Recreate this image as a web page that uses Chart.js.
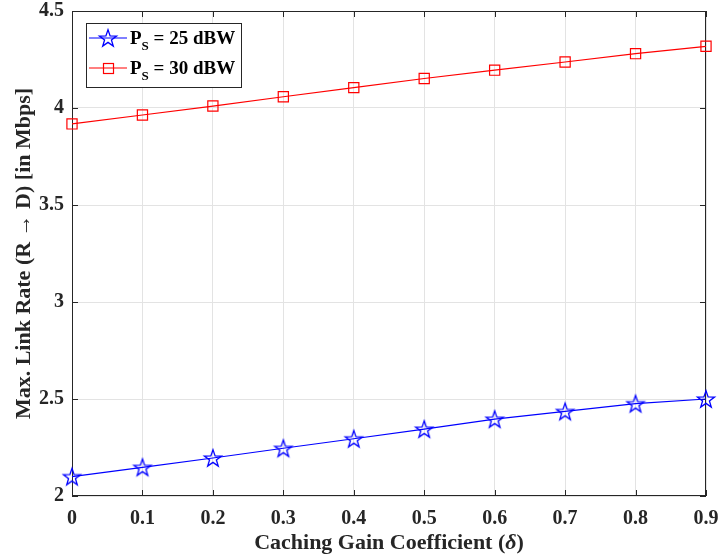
<!DOCTYPE html>
<html>
<head>
<meta charset="utf-8">
<script src="https://cdn.jsdelivr.net/npm/chart.js@4/dist/chart.umd.min.js"></script>
<style>
  html, body { margin: 0; padding: 0; background: #fff; }
</style>
</head>
<body>
<canvas id="chart" width="723" height="560"></canvas>
<script>
// caching gain coefficient (x) and link rates
const delta = [0, 0.1, 0.2, 0.3, 0.4, 0.5, 0.6, 0.7, 0.8, 0.9];
const rate25 = [2.10, 2.148, 2.196, 2.246, 2.295, 2.345, 2.396, 2.436, 2.476, 2.50];
const rate30 = [3.918, 3.964, 4.01, 4.058, 4.105, 4.152, 4.195, 4.237, 4.28, 4.318];
const seriesNames = ['25 dBW', '30 dBW'];
const xTicks = [0, 0.1, 0.2, 0.3, 0.4, 0.5, 0.6, 0.7, 0.8, 0.9];
const yTicks = [2, 2.5, 3, 3.5, 4, 4.5];

const serif = '"Liberation Serif", "Times New Roman", serif';
const axisColor = '#262626';

// pentagram marker (MATLAB 'p')
function makeStar(color) {
    const c = document.createElement('canvas');
    c.width = 22; c.height = 22;
    const g = c.getContext('2d');
    g.strokeStyle = color;
    g.lineWidth = 1.3;
    g.beginPath();
    for (let i = 0; i < 10; i++) {
        const r = i % 2 === 0 ? 9 : 3.6;
        const a = -Math.PI / 2 + i * Math.PI / 5;
        const px = 11 + r * Math.cos(a), py = 11.8 + r * Math.sin(a);
        if (i === 0) g.moveTo(px, py); else g.lineTo(px, py);
    }
    g.closePath();
    g.stroke();
    return c;
}
const starImg = makeStar('#0000ff');

const frame = {
    id: 'frame',
    beforeDatasetsDraw(chart) {
        const {ctx, chartArea: a, scales} = chart;
        ctx.save();
        ctx.strokeStyle = axisColor;
        ctx.lineWidth = 1;
        ctx.strokeRect(a.left + 0.5, a.top + 0.5, a.right - a.left - 1, a.bottom - a.top - 1);
        const tl = 6;
        ctx.beginPath();
        xTicks.forEach(v => {
            const x = Math.round(scales.x.getPixelForValue(v)) + 0.5;
            ctx.moveTo(x, a.bottom); ctx.lineTo(x, a.bottom - tl);
            ctx.moveTo(x, a.top); ctx.lineTo(x, a.top + tl);
        });
        yTicks.forEach(v => {
            const y = Math.round(scales.y.getPixelForValue(v)) + 0.5;
            ctx.moveTo(a.left, y); ctx.lineTo(a.left + tl, y);
            ctx.moveTo(a.right, y); ctx.lineTo(a.right - tl, y);
        });
        ctx.stroke();
        ctx.restore();
    },
    afterDraw(chart) {
        const {ctx, chartArea: a} = chart;
        ctx.save();
        ctx.fillStyle = axisColor;
        ctx.textBaseline = 'middle';

        // x title with italic delta
        const f1 = 'bold 22px ' + serif, f2 = 'bold italic 22px ' + serif;
        const p1 = 'Caching Gain Coefficient (', p2 = 'δ', p3 = ')';
        ctx.font = f1; const w1 = ctx.measureText(p1).width, w3 = ctx.measureText(p3).width;
        ctx.font = f2; const w2 = ctx.measureText(p2).width;
        let x = (a.left + a.right) / 2 - (w1 + w2 + w3) / 2;
        ctx.textAlign = 'left';
        ctx.font = f1; ctx.fillText(p1, x, 543); x += w1;
        ctx.font = f2; ctx.fillText(p2, x, 543); x += w2;
        ctx.font = f1; ctx.fillText(p3, x, 543);

        // y title
        ctx.translate(24, (a.top + a.bottom) / 2);
        ctx.rotate(-Math.PI / 2);
        ctx.textAlign = 'center';
        ctx.font = f1;
        ctx.fillText('Max. Link Rate (R \u2192 D) [in Mbps]', 0, 0);
        ctx.restore();

        // legend box
        ctx.save();
        ctx.fillStyle = '#fff';
        ctx.fillRect(86, 23, 155, 64);
        ctx.strokeStyle = axisColor;
        ctx.lineWidth = 1;
        ctx.strokeRect(86.5, 23.5, 155, 64);
        chart.data.datasets.forEach((ds, i) => {
            const cy = 38 + 30 * i;
            ctx.strokeStyle = ds.borderColor;
            ctx.lineWidth = 1.2;
            ctx.beginPath(); ctx.moveTo(89, cy); ctx.lineTo(127, cy); ctx.stroke();
            if (i === 0) {
                ctx.drawImage(starImg, 97, cy - 11);
            } else {
                ctx.strokeRect(103.5, cy - 4.5, 10, 10);
            }
            ctx.fillStyle = '#000';
            ctx.textAlign = 'left';
            ctx.textBaseline = 'alphabetic';
            let tx = 130;
            ctx.font = 'bold 19px ' + serif;
            ctx.fillText('P', tx, cy + 6); tx += ctx.measureText('P').width;
            ctx.font = 'bold 13px ' + serif;
            ctx.fillText('S', tx, cy + 12); tx += ctx.measureText('S').width;
            ctx.font = 'bold 19px ' + serif;
            ctx.fillText(' = ' + seriesNames[i], tx, cy + 6);
        });
        ctx.restore();
    }
};

new Chart(document.getElementById('chart'), {
    type: 'line',
    data: {
        datasets: [{
            label: 'P_S = ' + seriesNames[0],
            data: delta.map((d, i) => ({x: d, y: rate25[i]})),
            borderColor: '#0000ff',
            backgroundColor: '#0000ff',
            borderWidth: 1.2,
            pointStyle: starImg,
            clip: false,
            tension: 0
        }, {
            label: 'P_S = ' + seriesNames[1],
            data: delta.map((d, i) => ({x: d, y: rate30[i]})),
            borderColor: '#ff0000',
            backgroundColor: 'rgba(0,0,0,0)',
            borderWidth: 1.2,
            pointStyle: 'rect',
            pointRadius: 7.2,
            pointBorderWidth: 1.2,
            clip: false,
            tension: 0
        }]
    },
    options: {
        responsive: false,
        animation: false,
        devicePixelRatio: 1,
        layout: { padding: { top: 11, right: 17, left: 0, bottom: 0 } },
        plugins: { legend: { display: false }, tooltip: { enabled: false } },
        scales: {
            x: {
                type: 'linear',
                min: 0, max: 0.9,
                afterBuildTicks: s => { s.ticks = xTicks.map(v => ({value: v})); },
                afterFit: s => { s.height = 64; s.paddingLeft = 0; s.paddingRight = 0; },
                grid: { color: '#e3e3e3', drawTicks: false },
                border: { display: false },
                ticks: {
                    padding: 11,
                    color: axisColor,
                    font: { family: serif, size: 20, weight: 'bold' },
                    callback: v => v === 0 ? '0' : v.toFixed(1)
                }
            },
            y: {
                type: 'linear',
                min: 2, max: 4.5,
                afterBuildTicks: s => { s.ticks = yTicks.map(v => ({value: v})); },
                afterFit: s => { s.width = 72; s.paddingTop = 0; s.paddingBottom = 0; },
                grid: { color: '#e3e3e3', drawTicks: false },
                border: { display: false },
                ticks: {
                    padding: 8,
                    color: axisColor,
                    font: { family: serif, size: 20, weight: 'bold' },
                    callback: v => String(v)
                }
            }
        }
    },
    plugins: [frame]
});
</script>
</body>
</html>
